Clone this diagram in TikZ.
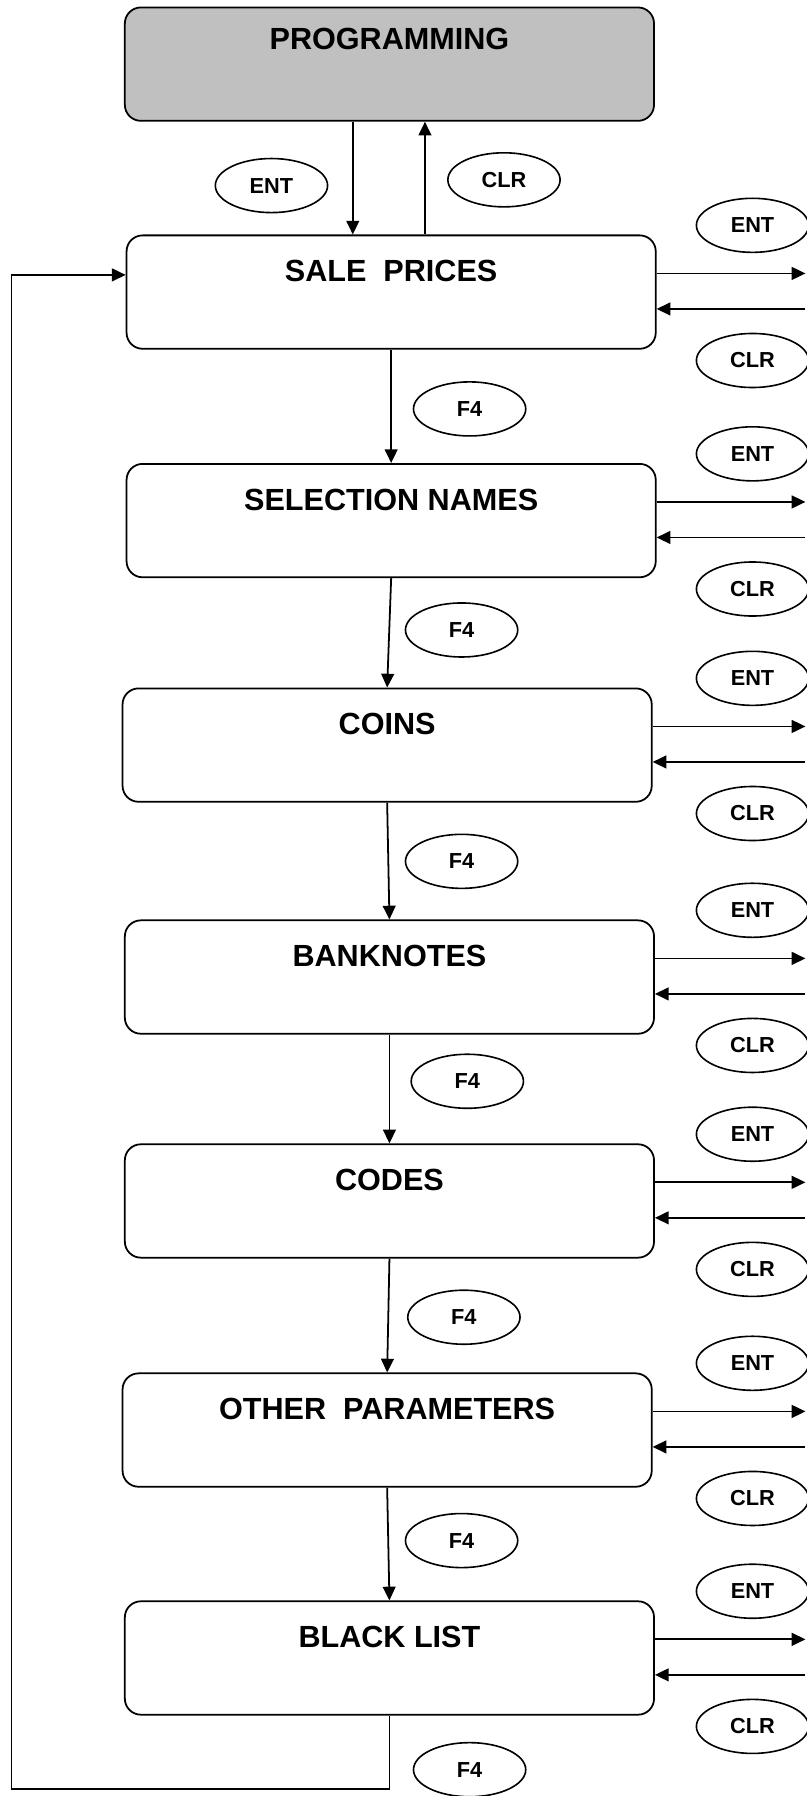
\documentclass[tikz,border=0pt]{standalone}
\usepackage{fontspec}
\setmainfont{Liberation Sans}
\usetikzlibrary{arrows.meta}
\usetikzlibrary{positioning}
\usetikzlibrary{shapes.geometric}
\definecolor{progfill}{HTML}{C0C0C0}
\tikzset {
  % menu box
  menu/.style = {
    draw = black,
    line width = 1.1pt,
    rectangle,
    rounded corners = 3.5mm,
    minimum width = 11.55cm,
    minimum height = 2.475cm
  },
  % menu title inside a box
  title/.style = {
    inner sep = 0,
    font = \fontsize{19}{22}\selectfont\bfseries
  },
  % key symbol
  key/.style = {
    draw = black,
    line width = 1pt,
    ellipse,
    minimum width = 2.45cm,
    minimum height = 1.18cm,
    inner sep = 0,
    font = \fontsize{13.5}{15}\selectfont\bfseries
  },
  flow/.style = {
    draw = black,
    line width = 1.1pt,
    -{Triangle[length=3mm,width=2.8mm]}
  }
}

\begin{document}
\begin{tikzpicture}
    \useasboundingbox (0,0) rectangle (17.6,-39.2);
    \coordinate (edge) at (17.58,0);
    \coordinate (lp) at (0.25,-39.05);

    \node[menu, fill = progfill] (prog) at (8.5,-1.4) {};
    \node[title] (progtxt) at ([yshift=-7mm]prog.north) {PROGRAMMING};

    \node[menu] (sale) at (8.5375,-6.375) {};
    \node[title] (saletxt) at ([yshift=-8mm]sale.north) {SALE\ \ PRICES};
    \node[menu] (sel) at (8.5375,-11.3625) {};
    \node[title] (seltxt) at ([yshift=-8mm]sel.north) {SELECTION NAMES};
    \node[menu] (coins) at (8.45,-16.2625) {};
    \node[title] (coinstxt) at ([yshift=-8mm]coins.north) {COINS};
    \node[menu] (bank) at (8.5,-21.325) {};
    \node[title] (banktxt) at ([yshift=-8mm]bank.north) {BANKNOTES};
    \node[menu] (codes) at (8.5,-26.2125) {};
    \node[title] (codestxt) at ([yshift=-8mm]codes.north) {CODES};
    \node[menu] (other) at (8.45,-31.2125) {};
    \node[title] (othertxt) at ([yshift=-8mm]other.north) {OTHER\ \ PARAMETERS};
    \node[menu] (black) at (8.5,-36.1875) {};
    \node[title] (blacktxt) at ([yshift=-8mm]black.north) {BLACK LIST};

    % enter / leave programming
    \node[key] (entp) at (5.925,-4.05) {ENT};
    \node[key] (clrp) at (11.0,-3.925) {CLR};
    \coordinate (pdown) at ([xshift=-8mm]prog.south);
    \coordinate (pup) at ([xshift=7.75mm]prog.south);
    \draw[flow] (pdown) -- (pdown |- sale.north);
    \draw[flow] (pup |- sale.north) -- (pup);

    % F4 steps
    \node[key] (f1) at (10.25,-8.925) {F4};
    \node[key] (f2) at (10.075,-13.75) {F4};
    \node[key] (f3) at (10.075,-18.8) {F4};
    \node[key] (f4) at (10.2,-23.6) {F4};
    \node[key] (f5) at (10.125,-28.75) {F4};
    \node[key] (f6) at (10.075,-33.625) {F4};
    \node[key] (f7) at (10.25,-38.625) {F4};
    \draw[flow] (sale.south) -- (sel.north);
    \draw[flow] (sel.south) -- (coins.north);
    \draw[flow] (coins.south) -- (bank.north);
    \draw[flow] (bank.south) -- (codes.north);
    \draw[flow] (codes.south) -- (other.north);
    \draw[flow] (other.south) -- (black.north);
    \draw[flow] (black.south) -- (black.south |- lp) -- (lp)
      |- ([yshift=3.75mm]sale.west);

    % sub menus on the right
    \foreach \b in {sale,sel,coins,bank,codes,other,black} {
      \coordinate (\b-out) at ([yshift=-8.5mm]\b.north east);
      \coordinate (\b-back) at ([yshift=-16.25mm]\b.north east);
      \node[key] (\b-ent) at ([yshift=2mm]\b.north -| 16.425,0) {ENT};
      \node[key] (\b-clr) at ([yshift=-27.5mm]\b.north -| 16.425,0) {CLR};
      \draw[flow] (\b-out) -- (\b-out -| edge);
      \draw[flow] (\b-back -| edge) -- (\b-back);
    }
\end{tikzpicture}
\end{document}
